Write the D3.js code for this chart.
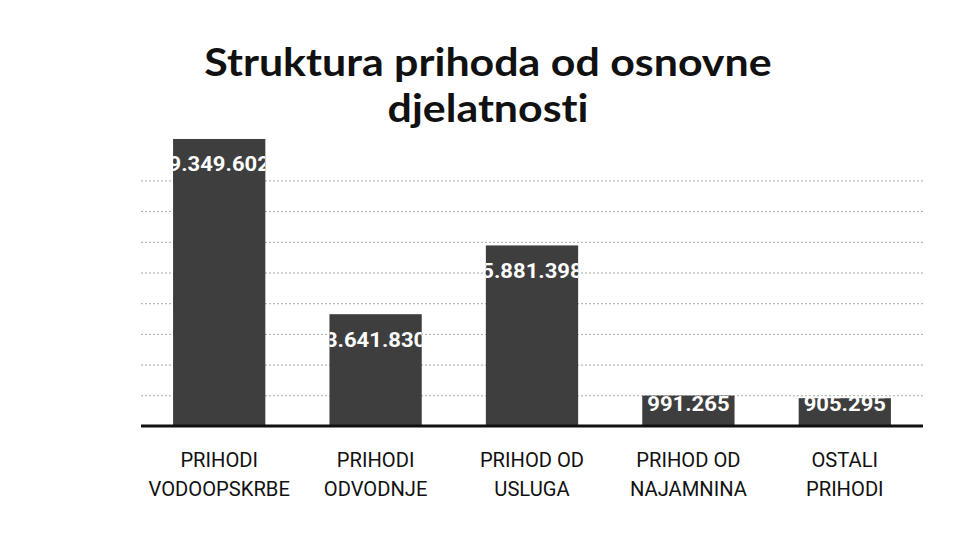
<!DOCTYPE html>
<html>
<head>
<meta charset="utf-8">
<script src="https://cdn.jsdelivr.net/npm/d3@7"></script>
<style>
  body { margin: 0; background: #fff; }
  svg { display: block; }
  text { font-variant-ligatures: none; }
</style>
</head>
<body>
<div id="chart"></div>
<script>
// Chart data
var titleLines = ['Struktura prihoda od osnovne', 'djelatnosti'];
var categories = [
  ['PRIHODI', 'VODOOPSKRBE'],
  ['PRIHODI', 'ODVODNJE'],
  ['PRIHOD OD', 'USLUGA'],
  ['PRIHOD OD', 'NAJAMNINA'],
  ['OSTALI', 'PRIHODI']
];
var values = [9349602, 3641830, 5881398, 991265, 905295];
var valueLabels = ['9.349.602', '3.641.830', '5.881.398', '991.265', '905.295'];
var gridValues = [1e6, 2e6, 3e6, 4e6, 5e6, 6e6, 7e6, 8e6];

(function () {
  var W = 957, H = 552;
  var margin = {top: 119, left: 141, right: 34, bottom: 126};
  var width = W - margin.left - margin.right,
      height = H - margin.top - margin.bottom;

  // stretch/squeeze text horizontally to mimic the original font
  function condense(sel, k) {
    sel.each(function() {
      var len = this.getComputedTextLength();
      d3.select(this)
        .attr('textLength', len * k)
        .attr('lengthAdjust', 'spacingAndGlyphs');
    });
  }

  var svg = d3.select('#chart').append('svg')
      .attr('width', W)
      .attr('height', H);

  // Title
  svg.selectAll('text.title')
      .data(titleLines)
      .enter().append('text')
      .attr('class', 'title')
      .attr('x', 488)
      .attr('y', function(d, i) { return 76 + i * 46; })
      .attr('text-anchor', 'middle')
      .style('font-family', 'Lato, "Open Sans", sans-serif')
      .style('font-weight', 'bold')
      .style('font-size', '39px')
      .style('fill', '#111')
      .text(function(d) { return d; })
      .call(condense, 1.1);

  var g = svg.append('g')
      .attr('transform', 'translate(' + margin.left + ',' + margin.top + ')');

  var idx = values.map(function(d, i) { return i; });

  var x = d3.scaleBand()
      .domain(idx)
      .range([0, width])
      .paddingInner(0.41)
      .paddingOuter(0.205);

  var y = d3.scaleLinear()
      .domain([0, 10e6])
      .range([height, 0]);

  // Gridlines
  g.append('g')
      .attr('class', 'grid')
      .call(d3.axisLeft(y).tickValues(gridValues).tickSize(-width).tickFormat(''))
      .call(function(s) {
        s.select('.domain').remove();
        s.selectAll('line')
          .attr('stroke', '#a8a8a8')
          .attr('stroke-dasharray', '2,2');
      });

  // Bars
  g.selectAll('rect.bar')
      .data(values)
      .enter().append('rect')
      .attr('class', 'bar')
      .attr('x', function(d, i) { return x(i); })
      .attr('y', function(d) { return y(d); })
      .attr('width', x.bandwidth())
      .attr('height', function(d) { return height - y(d); })
      .attr('fill', '#3e3e3e');

  // Clip labels to the bars
  var defs = svg.append('defs');
  values.forEach(function(d, i) {
    defs.append('clipPath')
        .attr('id', 'clip' + i)
        .append('rect')
        .attr('x', x(i))
        .attr('y', y(d) - 12)
        .attr('width', x.bandwidth())
        .attr('height', height - y(d) + 12);
  });

  // Value labels (inside end)
  g.selectAll('text.val')
      .data(values)
      .enter().append('text')
      .attr('class', 'val')
      .attr('clip-path', function(d, i) { return 'url(#clip' + i + ')'; })
      .attr('x', function(d, i) { return x(i) + x.bandwidth() / 2; })
      .attr('y', function(d) { return Math.min(y(d) + 25, height - 22); })
      .attr('dy', '0.35em')
      .attr('text-anchor', 'middle')
      .style('font-family', 'Roboto, "Liberation Sans", sans-serif')
      .style('font-weight', 'bold')
      .style('font-size', '21px')
      .style('fill', '#fff')
      .text(function(d, i) { return valueLabels[i]; })
      .call(condense, 1.05);

  // Baseline
  g.append('line')
      .attr('x1', 0)
      .attr('x2', width)
      .attr('y1', height)
      .attr('y2', height)
      .attr('stroke', '#111')
      .attr('stroke-width', 3);

  // Category labels, two lines each
  categories.forEach(function(lines, i) {
    g.selectAll('text.cat' + i)
        .data(lines)
        .enter().append('text')
        .attr('class', 'cat cat' + i)
        .attr('text-anchor', 'middle')
        .attr('x', x(i) + x.bandwidth() / 2)
        .attr('y', function(d, j) { return height + 41 + j * 29; })
        .style('font-family', 'Roboto, "Liberation Sans", sans-serif')
        .style('font-size', '21px')
        .style('fill', '#111')
        .text(function(d) { return d; })
        .call(condense, 0.96);
  });
})();
</script>
</body>
</html>
